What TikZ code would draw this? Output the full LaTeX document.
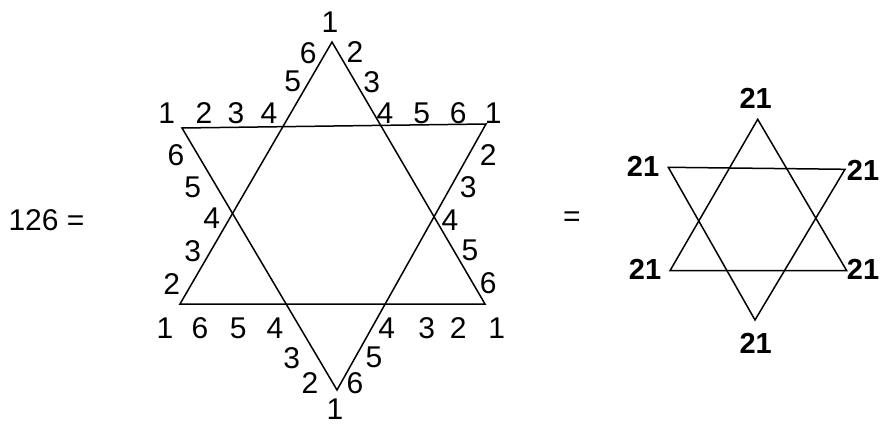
\documentclass[tikz,border=0pt]{standalone}
\usepackage{fontspec}
\setmainfont{Liberation Sans}
\usepackage{tikz}
\usetikzlibrary{positioning, calc}
\tikzset{
  starline/.style={line width=1.5pt, line join=miter, black},
  numlabel/.style={inner sep=0pt, font=\fontsize{30}{34}\selectfont},
  sumlabel/.style={inner sep=0pt, font=\fontsize{29}{33}\selectfont\bfseries},
}

\begin{document}
\begin{tikzpicture}[x=1pt, y=-1pt]
  \useasboundingbox (0,0) rectangle (881,425);

  % left star: vertices
  \coordinate (upTop) at (332,42);
  \coordinate (upLeft) at (180,304);
  \coordinate (upRight) at (485,304);
  \coordinate (dnLeft) at (182,128);
  \coordinate (dnRight) at (486,124);
  \coordinate (dnBot) at (337,390);

  \draw[starline] (upTop) -- (upLeft) -- (upRight) -- cycle;
  \draw[starline] (dnLeft) -- (dnRight) -- (dnBot) -- cycle;

  % right star: vertices
  \coordinate (sUpTop) at (757.7,119.3);
  \coordinate (sUpLeft) at (670,270.7);
  \coordinate (sUpRight) at (846.7,270.7);
  \coordinate (sDnLeft) at (668.3,167.3);
  \coordinate (sDnRight) at (845,169.3);
  \coordinate (sDnBot) at (755,320);

  \draw[starline] (sUpTop) -- (sUpLeft) -- (sUpRight) -- cycle;
  \draw[starline] (sDnLeft) -- (sDnRight) -- (sDnBot) -- cycle;

  % equation signs
  \node[numlabel] (total) at (46.5,220) {126 =};
  \node[numlabel] (equals) at (572,219) {=};

  % left star: top point
  \node[numlabel] (t1) at (330,21.7) {1};
  \node[numlabel] (t6) at (308.3,53.3) {6};
  \node[numlabel] (t2) at (355,51.7) {2};
  \node[numlabel] (t5) at (292.7,81.7) {5};
  \node[numlabel] (t3) at (371.7,81.7) {3};

  % left star: upper row
  \node[numlabel] (ua1) at (166.7,113.3) {1};
  \node[numlabel] (ua2) at (204,113.3) {2};
  \node[numlabel] (ua3) at (236,113.3) {3};
  \node[numlabel] (ua4) at (269,113.3) {4};
  \node[numlabel] (ub4) at (385,113.3) {4};
  \node[numlabel] (ub5) at (421.7,113.3) {5};
  \node[numlabel] (ub6) at (458.3,113.3) {6};
  \node[numlabel] (ub1) at (493.3,113.3) {1};

  % left star: sides
  \node[numlabel] (l6) at (176,155) {6};
  \node[numlabel] (l5) at (192.7,187) {5};
  \node[numlabel] (l4) at (211.7,218.3) {4};
  \node[numlabel] (l3) at (192.7,251) {3};
  \node[numlabel] (l2) at (171.7,284) {2};
  \node[numlabel] (r2) at (488.3,155) {2};
  \node[numlabel] (r3) at (468.3,186.7) {3};
  \node[numlabel] (r4) at (450,220) {4};
  \node[numlabel] (r5) at (470,250) {5};
  \node[numlabel] (r6) at (488.3,283.3) {6};

  % left star: lower row
  \node[numlabel] (la1) at (165,328.3) {1};
  \node[numlabel] (la6) at (200,328.3) {6};
  \node[numlabel] (la5) at (238.3,328.3) {5};
  \node[numlabel] (la4) at (275,328.3) {4};
  \node[numlabel] (lb4) at (386.7,328.3) {4};
  \node[numlabel] (lb3) at (426.7,328.3) {3};
  \node[numlabel] (lb2) at (458.3,328.3) {2};
  \node[numlabel] (lb1) at (496.7,328.3) {1};

  % left star: bottom point
  \node[numlabel] (b3) at (291.7,358.3) {3};
  \node[numlabel] (b5) at (374,357.3) {5};
  \node[numlabel] (b2) at (310,383.3) {2};
  \node[numlabel] (b6) at (355,383.3) {6};
  \node[numlabel] (b1) at (335,409.5) {1};

  % right star: sums
  \node[sumlabel] (sTop) at (755.7,98.3) {21};
  \node[sumlabel] (sTL) at (643,166) {21};
  \node[sumlabel] (sTR) at (863,170.7) {21};
  \node[sumlabel] (sBL) at (645,269.3) {21};
  \node[sumlabel] (sBR) at (863,269) {21};
  \node[sumlabel] (sBot) at (755.7,343) {21};
\end{tikzpicture}
\end{document}
